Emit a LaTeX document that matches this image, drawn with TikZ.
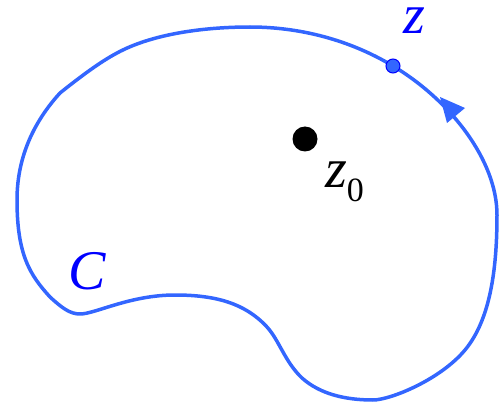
\documentclass[tikz,border=0pt]{standalone}
\usepackage{fontspec}
\setmainfont{Liberation Serif}
\definecolor{curveblue}{RGB}{51,102,255}
\definecolor{textblue}{RGB}{0,0,255}
\begin{document}
\begin{tikzpicture}[x=1pt,y=-1pt,
  contour/.style={draw=curveblue,line width=3.5pt,line join=round},
  bluelabel/.style={text=textblue,inner sep=0pt,anchor=base west,font=\fontsize{56}{60}\selectfont\itshape},
  blacklabel/.style={text=black,inner sep=0pt,anchor=base west,font=\fontsize{56}{60}\selectfont}]
\useasboundingbox (0,0) rectangle (499,404);
\draw[contour] (497,215)
  .. controls (497,160) and (450,100) .. (393,66)
  .. controls (350,40) and (300,27) .. (250,27)
  .. controls (200,27) and (150,35) .. (117,53)
  .. controls (100,62) and (80,77) .. (60,93)
  .. controls (40,115) and (17,150) .. (17,200)
  .. controls (17,255) and (30,275) .. (50,297)
  .. controls (62,308) and (70,314) .. (80,314)
  .. controls (95,314) and (130,295) .. (175,295)
  .. controls (215,295) and (245,303) .. (267,327)
  .. controls (279,340) and (285,362) .. (302,378)
  .. controls (320,394) and (345,400) .. (373,400)
  .. controls (390,400) and (440,380) .. (465,350)
  .. controls (490,320) and (497,270) .. cycle;
\fill[curveblue] (440,97) -- (447,123) -- (465,108) -- cycle;
\node[circle,fill=curveblue,draw=textblue,line width=1pt,minimum size=14pt,inner sep=0pt] (zpt) at (393,66) {};
\node[circle,fill=black,minimum size=25pt,inner sep=0pt] (z0pt) at (305,139) {};
\node[bluelabel] (zlab) at (403,34) {z};
\node[blacklabel] (z0lab) at (325,187) {\textit{z}\raisebox{-15pt}{\fontsize{34}{34}\selectfont 0}};
\node[bluelabel] (clab) at (68,290) {C};
\end{tikzpicture}
\end{document}
